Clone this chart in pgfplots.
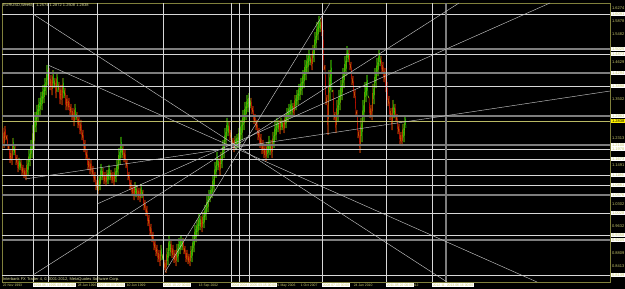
\documentclass[border=0pt]{standalone}
\usepackage{pgfplots}
\pgfplotsset{compat=1.18}
\usepackage{fontspec}
\setmainfont{Liberation Sans}
\definecolor{mtaxis}{RGB}{128,128,60}
\definecolor{mtlabel}{RGB}{200,200,110}
\definecolor{hline}{RGB}{215,215,215}
\definecolor{hgray}{RGB}{125,125,125}
\definecolor{diag}{RGB}{195,195,195}
\definecolor{bidline}{RGB}{185,185,100}
\definecolor{mttext}{RGB}{225,225,160}
\pgfplotsset{colormap={mt}{rgb255(0cm)=(255,20,0) rgb255(9cm)=(255,130,0) rgb255(14cm)=(150,240,0) rgb255(20cm)=(30,255,0)}}
\begin{document}
\begin{tikzpicture}
\fill[black] (0,0) rectangle (625pt,289pt);
\path[use as bounding box] (0,0) rectangle (625pt,289pt);
\begin{axis}[
  at={(2pt,7pt)}, anchor=south west,
  scale only axis, width=608pt, height=279pt,
  xmin=2, xmax=610, ymin=0.79255, ymax=1.6427,
  clip=false,
  axis line style={draw=mtaxis, line width=0.6pt},
  tick style={draw=mtaxis, line width=0.4pt},
  major tick length=1.2pt, tick align=outside,
  ytick pos=right, yticklabel pos=right,
  xtick pos=bottom,
  ytick={1.6274,1.5878,1.5482,1.4629,1.3502,1.2313,1.1491,1.0302,0.9632,0.8809,0.8413},
  yticklabels={1.6274,1.5878,1.5482,1.4629,1.3502,1.2313,1.1491,1.0302,0.9632,0.8809,0.8413},
  yticklabel style={font=\fontsize{4}{4.5}\selectfont, text=mtlabel, anchor=west, inner sep=0.6pt},
  extra y ticks={1.6091,1.5025,1.4873,1.4294,1.3898,1.2983,1.2100,1.1978,1.1673,1.1186,1.0881,1.0576,1.0028,0.9358,0.9205,0.8139},
  extra y tick labels={1.6091,1.5025,1.4873,1.4294,1.3898,1.2983,1.2100,1.1978,1.1673,1.1186,1.0881,1.0576,1.0028,0.9358,0.9205,0.8139},
  extra y tick style={tick label style={fill=white, text=black}},
  xtick={2,48,77,100,126,170,198,253,275,300,325,353,402},
  xticklabels={22 Nov 1993,17 Sep 1995,28 Jan 1996,9 Mar 1997,10 Jun 1999,17 Jun 2001,13 Sep 2002,4 Dec 2005,21 May 2006,1 Oct 2007,19 Oct 2008,24 Jan 2010,6 Jul 2012},
  xticklabel style={font=\fontsize{3.4}{4}\selectfont, text=mtlabel, anchor=north west, inner sep=0.6pt},
  extra x ticks={33,48,97,163,231,239,249,322,386,432,446},
  extra x tick labels={1994.06.12 00:00,1995.03.05 00:00,1997.08.03 00:00,2000.10.22 00:00,2004.03.08 00:00,2004.08.01 00:00,2005.03.15 00:00,2008.07.13 00:00,2011.05.22 00:00,2012.11.11 00:00,2013.06.16 00:00},
  extra x tick style={tick label style={fill=white, text=black, anchor=north}},
  colormap name=mt, point meta min=0, point meta max=1,
]
% price (weekly high/low zigzag)
\addplot[mesh, point meta=explicit, shader=flat corner, line width=0.5pt] table[x=x, y=y, meta=c] {
x y c
3 1.2618 0
4 1.2009 0.45
5 1.2679 0
6 1.2252 0.45
7 1.2405 0
8 1.1948 0.45
9 1.2100 0
10 1.1552 0.45
11 1.1948 0
12 1.1491 0.45
13 1.2313 1
14 1.1795 0.7
15 1.2100 0
16 1.1491 0.45
17 1.1795 0
18 1.1277 0.45
19 1.1704 1
20 1.1338 0.7
21 1.1643 0
22 1.1186 0.45
23 1.1491 0
24 1.1095 0.45
25 1.1399 0
26 1.1033 0.45
27 1.1643 1
28 1.1155 0.7
29 1.1948 1
30 1.1460 0.7
31 1.2252 1
32 1.1704 0.7
33 1.2709 1
34 1.1948 0.7
35 1.3105 1
36 1.2496 0.7
37 1.3319 1
38 1.2801 0.7
39 1.3532 1
40 1.3014 0.7
41 1.3715 1
42 1.3166 0.7
43 1.3928 1
44 1.3380 0.7
45 1.4141 1
46 1.3623 0.7
47 1.4537 1
48 1.3928 0.7
49 1.4446 0
50 1.3776 0.45
51 1.4233 0
52 1.3623 0.45
53 1.4385 1
54 1.3837 0.7
55 1.4141 0
56 1.3532 0.45
57 1.4324 1
58 1.3715 0.7
59 1.4019 0
60 1.3349 0.45
61 1.3928 0
62 1.3319 0.45
63 1.4141 1
64 1.3532 0.7
65 1.3837 0
66 1.3166 0.45
67 1.3623 0
68 1.3166 0.45
69 1.3532 0
70 1.3014 0.45
71 1.3349 0
72 1.2862 0.45
73 1.3227 0
74 1.2679 0.45
75 1.3349 1
76 1.2862 0.7
77 1.3105 0
78 1.2618 0.45
79 1.2983 0
80 1.2435 0.45
81 1.2862 0
82 1.2252 0.45
83 1.2557 0
84 1.1887 0.45
85 1.2252 0
86 1.1643 0.45
87 1.1948 0
88 1.1338 0.45
89 1.1704 0
90 1.1216 0.45
91 1.1643 0
92 1.1155 0.45
93 1.1460 0
94 1.0972 0.45
95 1.1277 0
96 1.0729 0.45
97 1.1033 0
98 1.0546 0.45
99 1.1186 1
100 1.0729 0.7
101 1.1521 1
102 1.1033 0.7
103 1.1399 0
104 1.0912 0.45
105 1.1277 0
106 1.0851 0.45
107 1.1338 1
108 1.0912 0.7
109 1.1491 1
110 1.1033 0.7
111 1.1338 0
112 1.0942 0.45
113 1.1277 0
114 1.0851 0.45
115 1.1399 1
116 1.0972 0.7
117 1.1643 1
118 1.1155 0.7
119 1.2009 1
120 1.1491 0.7
121 1.2344 1
122 1.1704 0.7
123 1.2100 0
124 1.1582 0.45
125 1.1948 0
126 1.1399 0.45
127 1.1643 0
128 1.1033 0.45
129 1.1277 0
130 1.0729 0.45
131 1.1033 0
132 1.0546 0.45
133 1.0881 0
134 1.0424 0.45
135 1.0972 1
136 1.0515 0.7
137 1.0851 0
138 1.0424 0.45
139 1.0790 0
140 1.0363 0.45
141 1.0912 1
142 1.0485 0.7
143 1.0729 0
144 1.0119 0.45
145 1.0424 0
146 0.9937 0.45
147 1.0241 0
148 0.9632 0.45
149 0.9967 0
150 0.9327 0.45
151 0.9693 0
152 0.9144 0.45
153 0.9449 0
154 0.8900 0.45
155 0.9205 0
156 0.8718 0.45
157 0.9053 0
158 0.8535 0.45
159 0.8900 0
160 0.8413 0.45
161 0.9053 1
162 0.8596 0.7
163 0.8779 0
164 0.8291 0.45
165 0.8596 0
166 0.8200 0.45
167 0.8961 1
168 0.8443 0.7
169 0.9358 1
170 0.8718 0.7
171 0.9205 0
172 0.8657 0.45
173 0.9053 0
174 0.8505 0.45
175 0.8900 0
176 0.8413 0.45
177 0.9083 1
178 0.8535 0.7
179 0.9266 1
180 0.8779 0.7
181 0.9327 1
182 0.8900 0.7
183 0.9266 0
184 0.8779 0.45
185 0.9022 0
186 0.8535 0.45
187 0.8900 0
188 0.8474 0.45
189 0.8779 0
190 0.8413 0.45
191 0.9022 1
192 0.8535 0.7
193 0.9327 1
194 0.8839 0.7
195 0.9662 1
196 0.9144 0.7
197 0.9815 1
198 0.9327 0.7
199 0.9997 1
200 0.9510 0.7
201 0.9937 0
202 0.9449 0.45
203 1.0058 1
204 0.9571 0.7
205 1.0272 1
206 0.9815 0.7
207 1.0546 1
208 1.0058 0.7
209 1.0729 1
210 1.0363 0.7
211 1.0851 1
212 1.0485 0.7
213 1.1186 1
214 1.0668 0.7
215 1.1582 1
216 1.1095 0.7
217 1.1887 1
218 1.1338 0.7
219 1.1704 0
220 1.1186 0.45
221 1.1887 1
222 1.1399 0.7
223 1.2252 1
224 1.1704 0.7
225 1.2618 1
226 1.2069 0.7
227 1.2923 1
228 1.2374 0.7
229 1.2801 0
230 1.2252 0.45
231 1.2557 0
232 1.2069 0.45
233 1.2313 0
234 1.1887 0.45
235 1.2374 1
236 1.1948 0.7
237 1.2435 1
238 1.2009 0.7
239 1.2618 1
240 1.2069 0.7
241 1.2862 1
242 1.2252 0.7
243 1.3166 1
244 1.2557 0.7
245 1.3410 1
246 1.2862 0.7
247 1.3623 1
248 1.3105 0.7
249 1.3684 1
250 1.3227 0.7
251 1.3532 0
252 1.3044 0.45
253 1.3288 0
254 1.2740 0.45
255 1.3044 0
256 1.2557 0.45
257 1.2862 0
258 1.2252 0.45
259 1.2618 0
260 1.2009 0.45
261 1.2435 0
262 1.1826 0.45
263 1.2252 0
264 1.1704 0.45
265 1.2100 0
266 1.1612 0.45
267 1.2191 1
268 1.1704 0.7
269 1.2374 1
270 1.1795 0.7
271 1.2252 0
272 1.1704 0.45
273 1.2496 1
274 1.2009 0.7
275 1.2801 1
276 1.2252 0.7
277 1.2923 1
278 1.2496 0.7
279 1.2862 0
280 1.2435 0.45
281 1.2923 1
282 1.2557 0.7
283 1.2862 0
284 1.2466 0.45
285 1.3044 1
286 1.2618 0.7
287 1.3227 1
288 1.2801 0.7
289 1.3349 1
290 1.2923 0.7
291 1.3471 1
292 1.3014 0.7
293 1.3380 0
294 1.2983 0.45
295 1.3623 1
296 1.3166 0.7
297 1.3776 1
298 1.3319 0.7
299 1.3959 1
300 1.3471 0.7
301 1.4141 1
302 1.3623 0.7
303 1.4385 1
304 1.3837 0.7
305 1.4690 1
306 1.4080 0.7
307 1.4873 1
308 1.4324 0.7
309 1.4995 1
310 1.4537 0.7
311 1.4842 0
312 1.4385 0.45
313 1.5147 1
314 1.4629 0.7
315 1.5543 1
316 1.4995 0.7
317 1.5848 1
318 1.5299 0.7
319 1.6031 1
320 1.5543 0.7
321 1.5970 0
322 1.5421 0.45
323 1.5604 0
324 1.4385 0.45
325 1.4537 0
326 1.3319 0.45
327 1.3623 0
328 1.2405 0.45
329 1.4385 1
330 1.3471 0.7
331 1.4690 1
332 1.3715 0.7
333 1.3776 0
334 1.2862 0.45
335 1.3105 0
336 1.2466 0.45
337 1.3471 1
338 1.2801 0.7
339 1.3776 1
340 1.3166 0.7
341 1.4080 1
342 1.3471 0.7
343 1.4446 1
344 1.3837 0.7
345 1.4812 1
346 1.4202 0.7
347 1.5116 1
348 1.4629 0.7
349 1.4995 0
350 1.4385 0.45
351 1.4629 0
352 1.3928 0.45
353 1.4202 0
354 1.3532 0.45
355 1.3776 0
356 1.3014 0.45
357 1.3166 0
358 1.2313 0.45
359 1.2557 0
360 1.1857 0.45
361 1.2923 1
362 1.2191 0.7
363 1.3471 1
364 1.2801 0.7
365 1.4019 1
366 1.3410 0.7
367 1.4233 1
368 1.3593 0.7
369 1.3532 0
370 1.2923 0.45
371 1.3319 0
372 1.2862 0.45
373 1.3959 1
374 1.3349 0.7
375 1.4446 1
376 1.3837 0.7
377 1.4751 1
378 1.4202 0.7
379 1.4995 1
380 1.4507 0.7
381 1.4812 0
382 1.4263 0.45
383 1.4629 0
384 1.4019 0.45
385 1.4446 0
386 1.3715 0.45
387 1.4019 0
388 1.3288 0.45
389 1.3593 0
390 1.2862 0.45
391 1.3227 0
392 1.2557 0.45
393 1.3471 1
394 1.2923 0.7
395 1.3349 0
396 1.2801 0.45
397 1.3044 0
398 1.2435 0.45
399 1.2740 0
400 1.2130 0.45
401 1.2496 0
402 1.2069 0.45
403 1.2740 1
404 1.2191 0.7
405 1.2983 1
406 1.2618 0.7
};
% horizontal lines (white)
\addplot[hline, line width=0.6pt] coordinates {(2,1.6091) (610,1.6091)};
\addplot[hline, line width=0.6pt] coordinates {(2,1.4873) (610,1.4873)};
\addplot[hline, line width=0.6pt] coordinates {(2,1.3898) (610,1.3898)};
\addplot[hline, line width=0.6pt] coordinates {(2,1.1978) (610,1.1978)};
\addplot[hline, line width=0.6pt] coordinates {(2,1.1673) (610,1.1673)};
\addplot[hline, line width=0.6pt] coordinates {(2,1.1186) (610,1.1186)};
\addplot[hline, line width=0.6pt] coordinates {(2,1.0881) (610,1.0881)};
\addplot[hline, line width=0.6pt] coordinates {(2,1.0028) (610,1.0028)};
\addplot[hline, line width=0.6pt] coordinates {(2,0.9358) (610,0.9358)};
\addplot[hline, line width=0.6pt] coordinates {(2,0.8139) (610,0.8139)};
% horizontal lines (gray)
\addplot[hgray, line width=1.1pt] coordinates {(2,1.5025) (610,1.5025)};
\addplot[hgray, line width=1.1pt] coordinates {(2,1.4294) (610,1.4294)};
\addplot[hgray, line width=1.1pt] coordinates {(2,1.2983) (610,1.2983)};
\addplot[hgray, line width=1.1pt] coordinates {(2,1.2100) (610,1.2100)};
\addplot[hgray, line width=1.1pt] coordinates {(2,1.0576) (610,1.0576)};
\addplot[hgray, line width=1.1pt] coordinates {(2,0.9205) (610,0.9205)};
% bid line
\addplot[bidline, line width=0.5pt] coordinates {(2,1.2838) (610,1.2838)};
% vertical lines
\addplot[hline, line width=0.6pt] coordinates {(33,0.79255) (33,1.6427)};
\addplot[hline, line width=0.6pt] coordinates {(48,0.79255) (48,1.6427)};
\addplot[hline, line width=0.6pt] coordinates {(97,0.79255) (97,1.6427)};
\addplot[hline, line width=0.6pt] coordinates {(163,0.79255) (163,1.6427)};
\addplot[hline, line width=0.6pt] coordinates {(231,0.79255) (231,1.6427)};
\addplot[hline, line width=0.6pt] coordinates {(239,0.79255) (239,1.6427)};
\addplot[hline, line width=0.6pt] coordinates {(249,0.79255) (249,1.6427)};
\addplot[hline, line width=0.6pt] coordinates {(322,0.79255) (322,1.6427)};
\addplot[hline, line width=0.6pt] coordinates {(386,0.79255) (386,1.6427)};
\addplot[hline, line width=0.6pt] coordinates {(432,0.79255) (432,1.6427)};
\addplot[hgray, line width=1.1pt] coordinates {(446,0.79255) (446,1.6427)};
% trend lines
\addplot[diag, line width=0.45pt] coordinates {(33,1.6091) (447,0.79255)};
\addplot[diag, line width=0.45pt] coordinates {(48,1.4537) (537,0.79255)};
\addplot[diag, line width=0.45pt] coordinates {(33,0.8139) (459,1.6427)};
\addplot[diag, line width=0.45pt] coordinates {(165,0.8230) (330,1.6427)};
\addplot[diag, line width=0.45pt] coordinates {(25,1.1064) (610,1.3745)};
\addplot[diag, line width=0.45pt] coordinates {(97,1.0302) (550,1.6427)};
% texts
\node[anchor=north west, inner sep=0.8pt, font=\fontsize{4}{4.5}\selectfont, text=mttext] at (rel axis cs:0,1) {EURUSD,Weekly\ \ 1.2574 1.2872 1.2508 1.2838};
\node[anchor=south west, inner sep=0.8pt, font=\fontsize{4}{4.5}\selectfont, text=mttext] at (rel axis cs:0,0) {Interbank FX Trader 4, © 2001-2012, MetaQuotes Software Corp.};
\node[anchor=west, inner sep=0.6pt, fill=yellow, text=black, font=\fontsize{4}{4.5}\selectfont, xshift=1.2pt] at (axis cs:610,1.2838) {1.2838};
\end{axis}
\end{tikzpicture}
\end{document}
